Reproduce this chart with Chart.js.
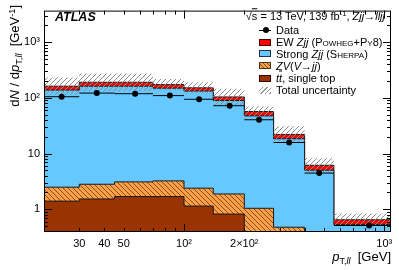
<!DOCTYPE html>
<html>
<head>
<meta charset="utf-8">
<script src="https://cdn.jsdelivr.net/npm/chart.js@4.4.1/dist/chart.umd.min.js"></script>
<style>
  body { margin: 0; background: #fff; }
  #wrap { position: relative; width: 399px; height: 270px; font-family: "Liberation Sans", Arial, sans-serif; color: #000; }
  #chart { position: absolute; left: 0; top: 0; }
  .lbl { position: absolute; white-space: nowrap; line-height: 1; transform: translateY(-50%); }
  .sub { font-size: 0.7em; vertical-align: -0.3em; }
  .sup { font-size: 0.7em; vertical-align: 0.45em; }
  .sc { font-variant: small-caps; }
  .box { position: absolute; left: 259px; width: 12px; height: 7px; box-sizing: border-box; }
  #ytitle { position: absolute; left: 4px; top: 205px; width: 200px; height: 16px; line-height: 16px; text-align: right;
            white-space: nowrap; font-size: 13px; transform-origin: 0 0; transform: rotate(-90deg); }
</style>
</head>
<body>
<div id="wrap">
  <canvas id="chart" width="399" height="270"></canvas>

  <div class="lbl" style="left:55px;top:17px;font-size:12.5px;font-weight:bold;font-style:italic;">ATLAS</div>
  <div class="lbl" style="right:14px;top:16px;font-size:11px;">√<span style="text-decoration:overline">s</span> = 13 TeV, 139 fb<span class="sup">-1</span>, <i>Zjj</i>→<i>lljj</i></div>

  <div style="position:absolute;left:259px;top:30px;width:12px;height:1px;background:#000;"></div>
  <div style="position:absolute;left:262.5px;top:27px;width:6px;height:6px;border-radius:50%;background:#000;"></div>
  <div class="lbl" style="left:276px;top:30px;font-size:11px;">Data</div>

  <div class="box" style="top:38.5px;background:#ff0000;border:1px solid #400;"></div>
  <div class="lbl" style="left:276px;top:42px;font-size:11px;">EW <i>Zjj</i> (<span class="sc">Powheg+Py8</span>)</div>

  <div class="box" style="top:49.5px;background:#66c8ff;border:1px solid #234;"></div>
  <div class="lbl" style="left:276px;top:53.5px;font-size:11px;">Strong <i>Zjj</i> (<span class="sc">Sherpa</span>)</div>

  <div class="box" style="top:62px;border:1px solid #432;background:repeating-linear-gradient(45deg,#f9a04a 0px,#f9a04a 2.2px,#8a4a10 2.2px,#8a4a10 3px);"></div>
  <div class="lbl" style="left:276px;top:65.5px;font-size:11px;"><i>ZV</i>(<i>V</i>→<i>jj</i>)</div>

  <div class="box" style="top:74.5px;background:#993300;border:1px solid #300;"></div>
  <div class="lbl" style="left:276px;top:78px;font-size:11px;"><i>t<span style="text-decoration:overline">t</span></i>, single top</div>

  <div class="box" style="top:86.5px;background:repeating-linear-gradient(135deg,#fff 0px,#fff 2.3px,#999 2.3px,#999 3.2px);"></div>
  <div class="lbl" style="left:276px;top:90px;font-size:11px;">Total uncertainty</div>

  <div class="lbl" style="right:8px;top:258px;font-size:13px;"><i>p</i><span class="sub">T,<i>ll</i></span>&nbsp;&nbsp;[GeV]</div>
  <div id="ytitle">d<i>N</i> / d<i>p</i><span class="sub">T,<i>ll</i></span>&nbsp;&nbsp;[GeV<span class="sup">-1</span>]</div>
</div>

<script>
const binEdges = [20, 30, 45, 70, 100, 140, 200, 280, 400, 560, 1080];
const dataX = [24.5, 36.7, 57, 85, 119, 169, 237, 335, 473, 840];
const dataY = [105, 122, 119, 110, 94.5, 72.4, 40.5, 15.8, 4.46, 0.51];
const ewZjj = [24.3, 28.5, 28.5, 23.5, 18.9, 14.4, 9.3, 3.6, 1.13, 0.117];
const strongZjj = [135.6, 159.6, 159.3, 146.5, 130.3, 87.8, 46.5, 18.0, 4.85, 0.47];
const zv = [1.09, 1.28, 1.41, 1.54, 1.25, 1.06, 0.79, 0.375, 0.15, 0.05];
const ttbar = [1.40, 1.53, 1.69, 1.69, 1.14, 0.82, 0.25, 0.1, 0.03, 0.01];
const uncUp = [233, 275, 275, 218, 191, 146, 70.4, 31, 8.27, 0.84];
const uncDown = [113, 132, 132, 137, 120, 74, 46, 16, 4.6, 0.49];

const yTicks = [1, 10, 100, 1000];
const yTickLabels = ["1", "10", "10²", "10³"];
const xTicks = [30, 40, 50, 100, 200, 1000];
const xTickLabels = ["30", "40", "50", "10²", "2×10²", "10³"];

const canvas = document.getElementById("chart");
const ctx = canvas.getContext("2d");

function cumulate(layers) {
  return layers[0].map((_, i) => layers.reduce((sum, l) => sum + l[i], 0));
}

// histogram as step points: value i holds from edge i to edge i+1
function steps(values) {
  const pts = values.map((v, i) => ({ x: binEdges[i], y: v }));
  pts.push({ x: binEdges[values.length], y: values[values.length - 1] });
  return pts;
}

function hatch(bg, color, dir, size) {
  const c = document.createElement("canvas");
  c.width = size;
  c.height = size;
  const g = c.getContext("2d");
  if (bg) {
    g.fillStyle = bg;
    g.fillRect(0, 0, size, size);
  }
  g.strokeStyle = color;
  g.lineWidth = 1;
  g.beginPath();
  if (dir > 0) {
    g.moveTo(-1, size + 1); g.lineTo(size + 1, -1);
    g.moveTo(-2, 1); g.lineTo(1, -2);
    g.moveTo(size - 1, size + 2); g.lineTo(size + 2, size - 1);
  } else {
    g.moveTo(-1, -1); g.lineTo(size + 1, size + 1);
    g.moveTo(size - 1, -2); g.lineTo(size + 2, 1);
    g.moveTo(-2, size - 1); g.lineTo(1, size + 2);
  }
  g.stroke();
  return ctx.createPattern(c, "repeat");
}

const ttTop = ttbar;
const zvTop = cumulate([ttbar, zv]);
const strongTop = cumulate([ttbar, zv, strongZjj]);
const ewTop = cumulate([ttbar, zv, strongZjj, ewZjj]);

const dataBars = [];
for (let i = 0; i < dataY.length; i++) {
  dataBars.push({ x: binEdges[i], y: dataY[i] });
  dataBars.push({ x: binEdges[i + 1], y: dataY[i] });
  dataBars.push({ x: binEdges[i + 1], y: null });
}

const edgeColor = "#1a1a1a";

function histDataset(values, fillColor, order) {
  return {
    data: steps(values),
    stepped: true,
    borderColor: edgeColor,
    borderWidth: 1,
    backgroundColor: fillColor,
    fill: "start",
    pointRadius: 0,
    order: order,
    clip: 0,
  };
}

const frameTicks = {
  id: "frameTicks",
  afterDatasetsDraw(chart) {
    const c = chart.ctx;
    const a = chart.chartArea;
    const x = chart.scales.x;
    const y = chart.scales.y;
    c.save();
    c.strokeStyle = "#000";
    c.lineWidth = 1;
    c.beginPath();
    for (let e = -1; e <= 3; e++) {
      for (let k = 1; k <= 9; k++) {
        const v = k * Math.pow(10, e);
        if (v < y.min || v > y.max) continue;
        const p = Math.round(y.getPixelForValue(v)) + 0.5;
        const len = k === 1 ? 8 : 4;
        c.moveTo(a.left, p); c.lineTo(a.left + len, p);
        c.moveTo(a.right, p); c.lineTo(a.right - len, p);
      }
    }
    for (let e = 1; e <= 3; e++) {
      for (let k = 1; k <= 9; k++) {
        const v = k * Math.pow(10, e);
        if (v <= x.min || v >= x.max) continue;
        const p = Math.round(x.getPixelForValue(v)) + 0.5;
        const len = k === 1 ? 8 : 4;
        c.moveTo(p, a.bottom); c.lineTo(p, a.bottom - len);
        c.moveTo(p, a.top); c.lineTo(p, a.top + len);
      }
    }
    c.stroke();
    c.strokeRect(a.left + 0.5, a.top + 0.5, a.right - a.left - 1, a.bottom - a.top - 1);
    c.restore();
  },
};

Chart.defaults.font.family = "'Liberation Sans', Arial, sans-serif";
Chart.defaults.color = "#000";

new Chart(ctx, {
  type: "line",
  data: {
    datasets: [
      histDataset(ewTop, "#ff0000", 7),
      histDataset(strongTop, "#66c8ff", 6),
      histDataset(zvTop, hatch("#f9a04a", "#8a4a10", -1, 5), 5),
      histDataset(ttTop, "#993300", 4),
      {
        data: steps(uncDown),
        stepped: true,
        borderWidth: 0,
        borderColor: "rgba(0,0,0,0)",
        pointRadius: 0,
        fill: false,
        order: 3,
      },
      {
        data: steps(uncUp),
        stepped: true,
        borderWidth: 0,
        borderColor: "rgba(0,0,0,0)",
        backgroundColor: hatch(null, "#8c8c8c", 1, 5),
        pointRadius: 0,
        fill: { target: 4 },
        order: 2,
      },
      {
        data: dataBars,
        borderColor: "#000",
        borderWidth: 1,
        pointRadius: 0,
        spanGaps: false,
        fill: false,
        order: 1,
      },
      {
        data: dataX.map((x, i) => ({ x: x, y: dataY[i] })),
        showLine: false,
        pointRadius: 3,
        pointBackgroundColor: "#000",
        pointBorderColor: "#000",
        pointBorderWidth: 0,
        clip: false,
        order: 0,
      },
    ],
  },
  options: {
    responsive: false,
    animation: false,
    devicePixelRatio: 1,
    layout: { padding: { top: 5, right: 8, left: 0, bottom: 0 } },
    plugins: { legend: { display: false }, tooltip: { enabled: false } },
    scales: {
      x: {
        type: "logarithmic",
        min: 20,
        max: 1080,
        grid: { display: false, drawTicks: false },
        border: { display: false },
        afterBuildTicks: (s) => { s.ticks = xTicks.map((v) => ({ value: v })); },
        afterFit: (s) => { s.height = 38; },
        ticks: {
          autoSkip: false,
          maxRotation: 0,
          padding: 5,
          font: { size: 11 },
          callback: (v, i) => xTickLabels[i],
        },
      },
      y: {
        type: "logarithmic",
        min: 0.39,
        max: 3700,
        grid: { display: false, drawTicks: false },
        border: { display: false },
        afterBuildTicks: (s) => { s.ticks = yTicks.map((v) => ({ value: v })); },
        afterFit: (s) => { s.width = 44; },
        ticks: {
          autoSkip: false,
          padding: 4,
          font: { size: 11 },
          callback: (v, i) => yTickLabels[i],
        },
      },
    },
  },
  plugins: [frameTicks],
});
</script>
</body>
</html>
